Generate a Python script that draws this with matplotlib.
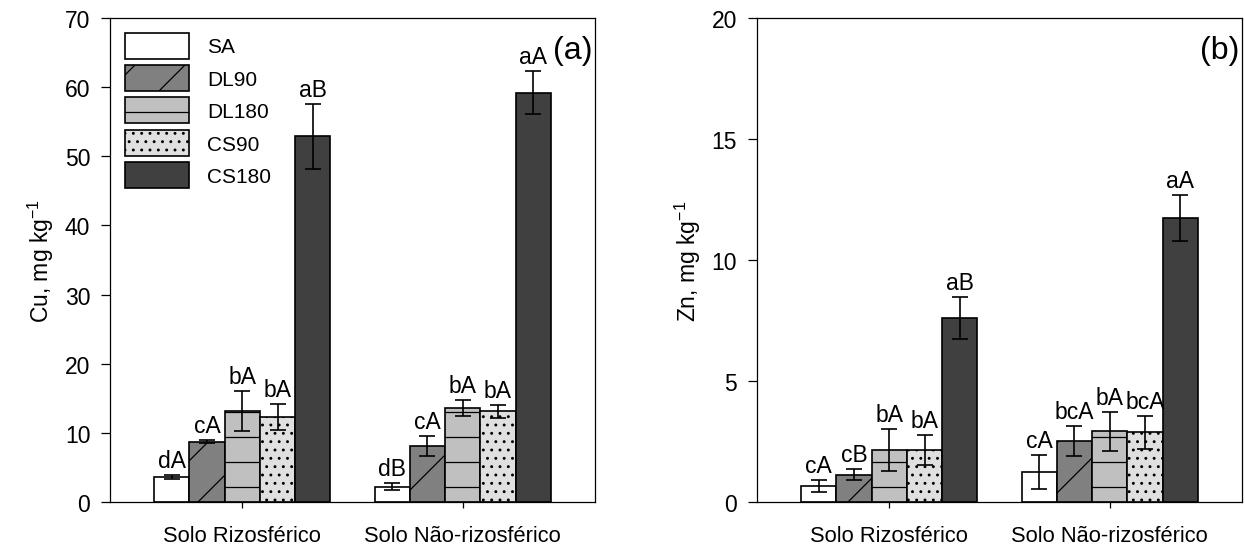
import numpy as np
import matplotlib
matplotlib.use('Agg')
import matplotlib.pyplot as plt

plt.rcParams['font.family'] = ['Liberation Sans', 'DejaVu Sans']
plt.rcParams['mathtext.default'] = 'regular'
plt.rcParams['hatch.linewidth'] = 0.6

groups = ['Solo Rizosférico', 'Solo Não-rizosférico']
treatments = ['SA', 'DL90', 'DL180', 'CS90', 'CS180']

# rows = treatment, cols = (rizosferico, nao-rizosferico)
cu_mean = [[3.6, 2.2], [8.7, 8.1], [13.2, 13.6], [12.3, 13.1], [52.9, 59.2]]
cu_err = [[0.3, 0.5], [0.2, 1.5], [2.9, 1.2], [1.9, 0.9], [4.7, 3.1]]
cu_letters = [['dA', 'dB'], ['cA', 'cA'], ['bA', 'bA'], ['bA', 'bA'], ['aB', 'aA']]

zn_mean = [[0.67, 1.23], [1.12, 2.53], [2.15, 2.92], [2.16, 2.88], [7.6, 11.75]]
zn_err = [[0.24, 0.7], [0.23, 0.62], [0.86, 0.8], [0.62, 0.67], [0.87, 0.95]]
zn_letters = [['cA', 'cA'], ['cB', 'bcA'], ['bA', 'bA'], ['bA', 'bcA'], ['aB', 'aA']]

fills = ['white', '#808080', '#c0c0c0', '#e0e0e0', '#404040']
hatches = [None, '/', '-', '...', None]

fig = plt.figure(figsize=(8.3, 3.6533), dpi=150)
ax1 = fig.add_axes([0.0884, 0.0821, 0.3895, 0.8832])
ax2 = fig.add_axes([0.608, 0.0821, 0.3896, 0.8832])

x = np.arange(1, len(groups) + 1)
w = 0.16


def draw(ax, means, errs, letters, ymax, ystep, ylabel, tag):
    for i, t in enumerate(treatments):
        xi = x + (i - 2) * w
        ax.bar(xi, means[i], w, color=fills[i], edgecolor='black',
               linewidth=0.8, hatch=hatches[i], label=t, zorder=2)
        ax.errorbar(xi, means[i], yerr=errs[i], fmt='none', ecolor='black',
                    elinewidth=0.8, capsize=3.8, capthick=0.8, zorder=3)
        for j in range(len(groups)):
            ax.annotate(letters[i][j], (xi[j], means[i][j] + errs[i][j]),
                        xytext=(0, 1.5), textcoords='offset points',
                        ha='center', va='bottom', fontsize=11)
    ax.set_xlim(0.4, 2.6)
    ax.set_ylim(0, ymax)
    ax.set_yticks(np.arange(0, ymax + 1, ystep))
    ax.set_xticks(x)
    ax.set_xticklabels(groups)
    ax.tick_params(axis='y', labelsize=11, length=4.5, width=0.6, pad=5)
    ax.tick_params(axis='x', labelsize=10.5, length=3, width=0.6, pad=8)
    ax.set_ylabel(ylabel, fontsize=11, labelpad=4)
    for s in ax.spines.values():
        s.set_linewidth(0.6)
    ax.text(0.995, 0.965, tag, transform=ax.transAxes, ha='right', va='top',
            fontsize=15.5)


draw(ax1, cu_mean, cu_err, cu_letters, 70, 10, 'Cu, mg kg$^{-1}$', '(a)')
draw(ax2, zn_mean, zn_err, zn_letters, 20, 5, 'Zn, mg kg$^{-1}$', '(b)')

ax1.legend(loc='upper left', frameon=False, fontsize=10, handlelength=3.1,
           handleheight=1.55, labelspacing=0.3, handletextpad=0.85,
           borderaxespad=0, borderpad=0.7)

fig.savefig('out.png', dpi=150)
